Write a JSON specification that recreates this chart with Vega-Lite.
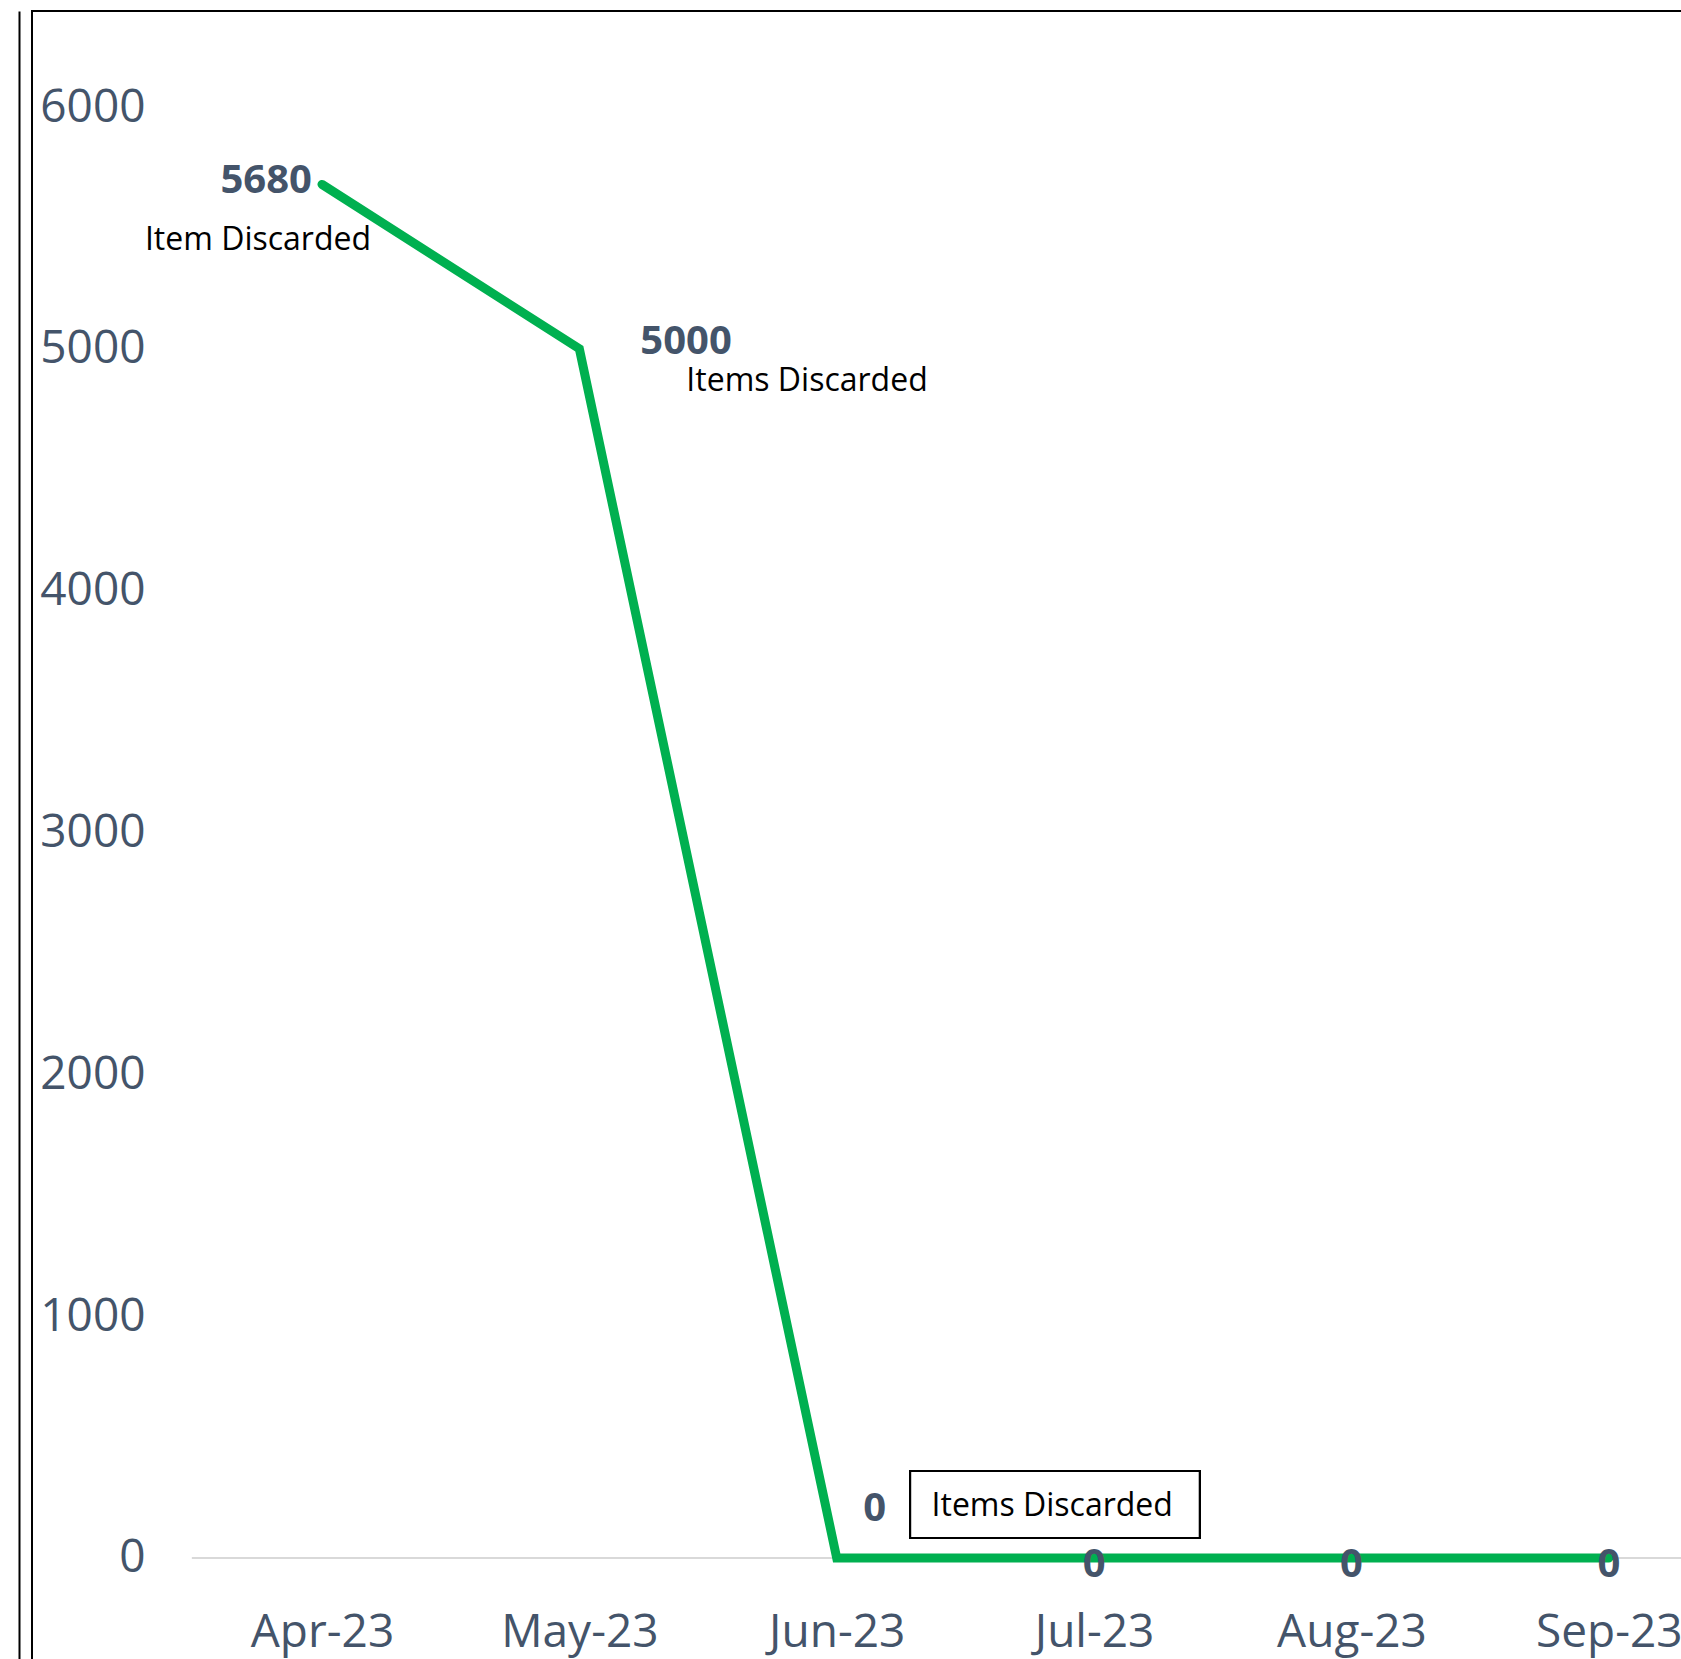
{
  "$schema": "https://vega.github.io/schema/vega-lite/v6.json",
  "autosize": {"type": "none"},
  "padding": {"left": 32, "top": 11, "right": -1, "bottom": -1},
  "width": 1650,
  "height": 1649,
  "background": "white",
  "config": {
    "view": {"stroke": "black", "strokeWidth": 2},
    "font": "Open Sans"
  },
  "data": {
    "values": [
      {"month": "Apr-23", "items": 5680, "note": "Item Discarded"},
      {"month": "May-23", "items": 5000, "note": "Items Discarded"},
      {"month": "Jun-23", "items": 0, "note": "Items Discarded"},
      {"month": "Jul-23", "items": 0, "note": ""},
      {"month": "Aug-23", "items": 0, "note": ""},
      {"month": "Sep-23", "items": 0, "note": ""}
    ]
  },
  "encoding": {
    "x": {
      "field": "month",
      "type": "nominal",
      "sort": null,
      "scale": {
        "type": "point",
        "domain": ["Apr-23", "May-23", "Jun-23", "Jul-23", "Aug-23", "Sep-23"],
        "padding": 0.7055,
        "align": 0.7985
      },
      "axis": {
        "title": null,
        "domain": false,
        "ticks": false,
        "tickSize": 0,
        "grid": false,
        "labelAngle": 0,
        "labelPadding": -14,
        "labelBaseline": "alphabetic",
        "labelFont": "Open Sans",
        "labelFontSize": 46,
        "labelColor": "#44546A"
      }
    },
    "y": {
      "field": "items",
      "type": "quantitative",
      "scale": {"domain": [-422, 6397], "nice": false, "zero": false},
      "axis": {
        "title": null,
        "values": [0, 1000, 2000, 3000, 4000, 5000, 6000],
        "format": "d",
        "offset": 13,
        "domain": true,
        "domainColor": "black",
        "domainWidth": 2,
        "ticks": false,
        "tickSize": 0,
        "grid": false,
        "labelPadding": -126,
        "labelFont": "Open Sans",
        "labelFontSize": 46,
        "labelColor": "#44546A"
      }
    }
  },
  "layer": [
    {
      "mark": {"type": "rule", "color": "#D9D9D9", "strokeWidth": 2, "xOffset": -130, "x2Offset": 200},
      "encoding": {
        "x": {"datum": "Apr-23"},
        "x2": {"datum": "Sep-23"},
        "y": {"datum": 0}
      }
    },
    {
      "mark": {"type": "line", "color": "#00B050", "strokeWidth": 9, "strokeCap": "round", "strokeJoin": "miter"}
    },
    {
      "mark": {"type": "rect", "fill": "white", "stroke": "black", "strokeWidth": 2, "xOffset": 73.5, "x2Offset": 363, "yOffset": -87, "y2Offset": -20},
      "encoding": {
        "x": {"datum": "Jun-23"},
        "x2": {"datum": "Jun-23"},
        "y": {"datum": 0},
        "y2": {"datum": 0}
      }
    },
    {
      "transform": [{"filter": "datum.month == 'Apr-23'"}],
      "mark": {"type": "text", "font": "Open Sans", "fontWeight": "bold", "fontSize": 40, "color": "#44546A", "align": "right", "baseline": "alphabetic", "dx": -10, "dy": 9},
      "encoding": {"text": {"field": "items", "type": "quantitative"}}
    },
    {
      "transform": [{"filter": "datum.month == 'Apr-23'"}],
      "mark": {"type": "text", "font": "Open Sans", "fontSize": 32, "color": "black", "align": "center", "baseline": "alphabetic", "dx": -64, "dy": 66},
      "encoding": {"text": {"field": "note", "type": "nominal"}}
    },
    {
      "transform": [{"filter": "datum.month == 'May-23'"}],
      "mark": {"type": "text", "font": "Open Sans", "fontWeight": "bold", "fontSize": 40, "color": "#44546A", "align": "left", "baseline": "alphabetic", "dx": 61, "dy": 5},
      "encoding": {"text": {"field": "items", "type": "quantitative"}}
    },
    {
      "transform": [{"filter": "datum.month == 'May-23'"}],
      "mark": {"type": "text", "font": "Open Sans", "fontSize": 32, "color": "black", "align": "left", "baseline": "alphabetic", "dx": 107, "dy": 42},
      "encoding": {"text": {"field": "note", "type": "nominal"}}
    },
    {
      "transform": [{"filter": "datum.month == 'Jun-23'"}],
      "mark": {"type": "text", "font": "Open Sans", "fontWeight": "bold", "fontSize": 40, "color": "#44546A", "align": "center", "baseline": "alphabetic", "dx": 38, "dy": -37},
      "encoding": {"text": {"field": "items", "type": "quantitative"}}
    },
    {
      "transform": [{"filter": "datum.month == 'Jun-23'"}],
      "mark": {"type": "text", "font": "Open Sans", "fontSize": 32, "color": "black", "align": "center", "baseline": "alphabetic", "dx": 215.5, "dy": -42},
      "encoding": {"text": {"field": "note", "type": "nominal"}}
    },
    {
      "transform": [{"filter": "datum.month == 'Jul-23' || datum.month == 'Aug-23' || datum.month == 'Sep-23'"}],
      "mark": {"type": "text", "font": "Open Sans", "fontWeight": "bold", "fontSize": 40, "color": "#44546A", "align": "center", "baseline": "alphabetic", "dy": 19},
      "encoding": {"text": {"field": "items", "type": "quantitative"}}
    }
  ]
}
